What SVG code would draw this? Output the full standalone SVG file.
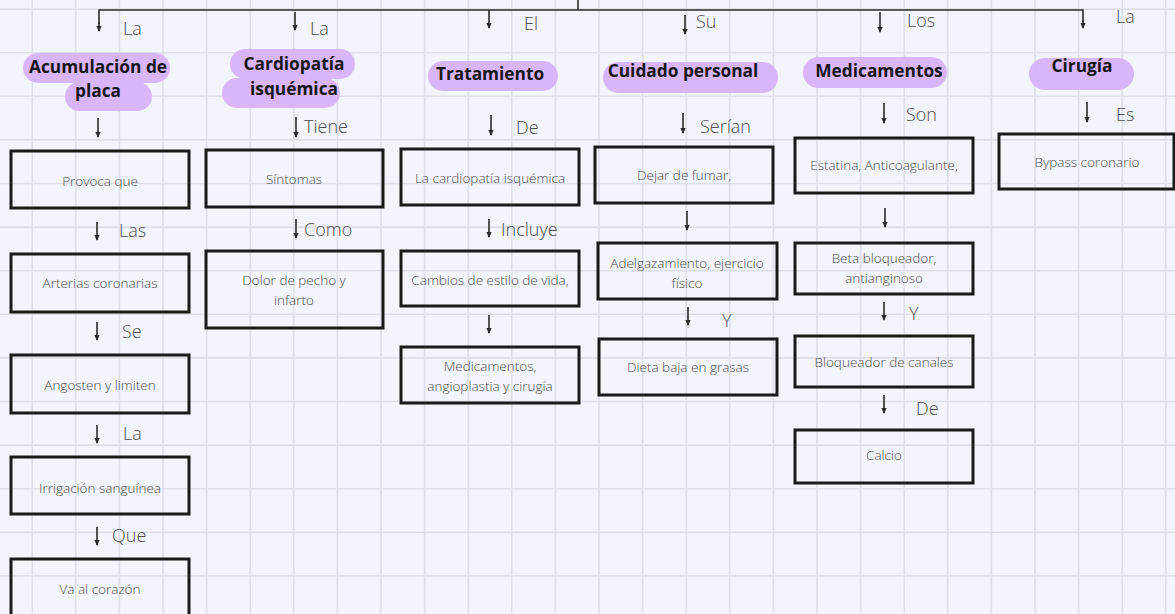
<svg xmlns="http://www.w3.org/2000/svg" width="1175" height="614" viewBox="0 0 1175 614">
<defs>
<marker id="ah" viewBox="0 0 6 6" refX="5" refY="3" markerWidth="6" markerHeight="6" markerUnits="userSpaceOnUse" orient="auto">
<path d="M0 0.4 L6 3 L0 5.6 Z" fill="#2b2b2b"/>
</marker>
<style>
.bg{fill:#f4f4fd}
.grid{stroke:#dfdfea;stroke-width:1.6;fill:none}
.hl{fill:#d9b6f9}
.ht{font-family:"Open Sans","Liberation Sans",sans-serif;font-weight:700;font-size:17.3px;fill:#161616;text-anchor:middle}
.box{fill:none;stroke:#1a1a1a;stroke-width:3}
.bt{font-family:"Open Sans","Liberation Sans",sans-serif;font-weight:300;font-size:13.5px;fill:#4f4f4f;text-anchor:middle}
.lb{font-family:"Open Sans","Liberation Sans",sans-serif;font-weight:300;font-size:18px;fill:#4f4f4f}
.ln{stroke:#2b2b2b;stroke-width:1.6;fill:none}
.ar{stroke:#2b2b2b;stroke-width:1.6;fill:none}
</style>
</defs>
<rect class="bg" x="0" y="0" width="1175" height="614"/>
<path class="grid" d="M32.2 0V614M75.8 0V614M119.4 0V614M163 0V614M206.6 0V614M250.2 0V614M293.8 0V614M337.4 0V614M381 0V614M424.6 0V614M468.2 0V614M511.8 0V614M555.4 0V614M599 0V614M642.6 0V614M686.2 0V614M729.8 0V614M773.4 0V614M817 0V614M860.6 0V614M904.2 0V614M947.8 0V614M991.4 0V614M1035 0V614M1078.6 0V614M1122.2 0V614M1165.8 0V614M0 9.1H1175M0 52.7H1175M0 96.3H1175M0 139.9H1175M0 183.5H1175M0 227.1H1175M0 270.7H1175M0 314.3H1175M0 357.9H1175M0 401.5H1175M0 445.1H1175M0 488.7H1175M0 532.3H1175M0 575.9H1175"/>

<g id="connectors">
<path class="ln" d="M578 0V10"/>
<path class="ln" d="M99 24V10H1083V22"/>
<path class="ar" d="M99 22V31" marker-end="url(#ah)"/>
<path class="ar" d="M1083 20V28" marker-end="url(#ah)"/>
<path class="ar" d="M295 12V30" marker-end="url(#ah)"/>
<path class="ar" d="M489 10V28" marker-end="url(#ah)"/>
<path class="ar" d="M685 15V34" marker-end="url(#ah)"/>
<path class="ar" d="M880 12V32" marker-end="url(#ah)"/>
<text class="lb" x="123" y="35">La</text>
<text class="lb" x="310" y="35">La</text>
<text class="lb" x="524" y="30">El</text>
<text class="lb" x="696" y="28">Su</text>
<text class="lb" x="907" y="27">Los</text>
<text class="lb" x="1116" y="23">La</text>

<path class="ar" d="M98 118V137" marker-end="url(#ah)"/>
<path class="ar" d="M296 117V137" marker-end="url(#ah)"/>
<text class="lb" x="304" y="133">Tiene</text>
<path class="ar" d="M491 115V135" marker-end="url(#ah)"/>
<text class="lb" x="516" y="134">De</text>
<path class="ar" d="M683 113V133" marker-end="url(#ah)"/>
<text class="lb" x="700" y="133">Serían</text>
<path class="ar" d="M884 103V123" marker-end="url(#ah)"/>
<text class="lb" x="906" y="121">Son</text>
<path class="ar" d="M1087 102V122" marker-end="url(#ah)"/>
<text class="lb" x="1116" y="121">Es</text>

<path class="ar" d="M97 222V240" marker-end="url(#ah)"/>
<text class="lb" x="119" y="237">Las</text>
<path class="ar" d="M97 322V340" marker-end="url(#ah)"/>
<text class="lb" x="122" y="338">Se</text>
<path class="ar" d="M97 425V443" marker-end="url(#ah)"/>
<text class="lb" x="123" y="440">La</text>
<path class="ar" d="M97 527V545" marker-end="url(#ah)"/>
<text class="lb" x="112" y="542">Que</text>

<path class="ar" d="M296 219V238" marker-end="url(#ah)"/>
<text class="lb" x="304" y="236">Como</text>

<path class="ar" d="M489 219V237" marker-end="url(#ah)"/>
<text class="lb" x="501" y="236">Incluye</text>
<path class="ar" d="M489 315V333" marker-end="url(#ah)"/>

<path class="ar" d="M687 211V230" marker-end="url(#ah)"/>
<path class="ar" d="M688 307V325" marker-end="url(#ah)"/>
<text class="lb" x="722" y="327">Y</text>

<path class="ar" d="M885 208V227" marker-end="url(#ah)"/>
<path class="ar" d="M884 302V320" marker-end="url(#ah)"/>
<text class="lb" x="909" y="320">Y</text>
<path class="ar" d="M884 395V413" marker-end="url(#ah)"/>
<text class="lb" x="916" y="415">De</text>
</g>

<g id="h-acumulacion">
<rect class="hl" x="23" y="53" width="147" height="30" rx="15"/>
<rect class="hl" x="65" y="82" width="87" height="29" rx="14.5"/>
<text class="ht" x="98" y="73">Acumulación de</text>
<text class="ht" x="98" y="97">placa</text>
</g>
<g id="h-cardiopatia">
<rect class="hl" x="230" y="49" width="125" height="30" rx="15"/>
<rect class="hl" x="222" y="78" width="118" height="30" rx="15"/>
<text class="ht" x="294" y="70">Cardiopatía</text>
<text class="ht" x="294" y="95">isquémica</text>
</g>
<g id="h-tratamiento">
<rect class="hl" x="428" y="61" width="130" height="30" rx="15"/>
<text class="ht" x="490" y="80">Tratamiento</text>
</g>
<g id="h-cuidado">
<rect class="hl" x="603" y="62" width="175" height="31" rx="15.5"/>
<text class="ht" x="683" y="77">Cuidado personal</text>
</g>
<g id="h-medicamentos">
<rect class="hl" x="803" y="57" width="144" height="31" rx="15.5"/>
<text class="ht" x="879" y="77">Medicamentos</text>
</g>
<g id="h-cirugia">
<rect class="hl" x="1029" y="58" width="105" height="32" rx="16"/>
<text class="ht" x="1082" y="72">Cirugía</text>
</g>

<g id="n-provoca"><rect class="box" x="11" y="151" width="178" height="57"/><text class="bt" x="100" y="186">Provoca que</text></g>
<g id="n-arterias"><rect class="box" x="11" y="254" width="178" height="58"/><text class="bt" x="100" y="288">Arterias coronarias</text></g>
<g id="n-angosten"><rect class="box" x="11" y="355" width="178" height="58"/><text class="bt" x="100" y="390">Angosten y limiten</text></g>
<g id="n-irrigacion"><rect class="box" x="11" y="457" width="178" height="57"/><text class="bt" x="100" y="493">Irrigación sanguínea</text></g>
<g id="n-corazon"><rect class="box" x="11" y="559" width="178" height="60"/><text class="bt" x="100" y="594">Va al corazón</text></g>

<g id="n-sintomas"><rect class="box" x="206" y="150" width="177" height="57"/><text class="bt" x="294" y="184">Síntomas</text></g>
<g id="n-dolor"><rect class="box" x="206" y="251" width="177" height="77"/><text class="bt" x="294" y="285">Dolor de pecho y</text><text class="bt" x="294" y="305">infarto</text></g>

<g id="n-lacardio"><rect class="box" x="401" y="149" width="178" height="56"/><text class="bt" x="490" y="183">La cardiopatía isquémica</text></g>
<g id="n-cambios"><rect class="box" x="401" y="251" width="178" height="55"/><text class="bt" x="490" y="285">Cambios de estilo de vida,</text></g>
<g id="n-medang"><rect class="box" x="401" y="347" width="178" height="56"/><text class="bt" x="490" y="371">Medicamentos,</text><text class="bt" x="490" y="391">angioplastia y cirugía</text></g>

<g id="n-fumar"><rect class="box" x="595" y="147" width="178" height="56"/><text class="bt" x="684" y="180">Dejar de fumar,</text></g>
<g id="n-adelga"><rect class="box" x="598" y="243" width="179" height="56"/><text class="bt" x="687" y="268">Adelgazamiento, ejercicio</text><text class="bt" x="687" y="288">físico</text></g>
<g id="n-dieta"><rect class="box" x="599" y="339" width="178" height="56"/><text class="bt" x="688" y="372">Dieta baja en grasas</text></g>

<g id="n-estatina"><rect class="box" x="795" y="138" width="178" height="55"/><text class="bt" x="884" y="170">Estatina, Anticoagulante,</text></g>
<g id="n-beta"><rect class="box" x="795" y="243" width="178" height="51"/><text class="bt" x="884" y="263">Beta bloqueador,</text><text class="bt" x="884" y="283">antianginoso</text></g>
<g id="n-bloq"><rect class="box" x="795" y="336" width="178" height="51"/><text class="bt" x="884" y="367">Bloqueador de canales</text></g>
<g id="n-calcio"><rect class="box" x="795" y="430" width="178" height="53"/><text class="bt" x="884" y="460">Calcio</text></g>

<g id="n-bypass"><rect class="box" x="999" y="134" width="175" height="55"/><text class="bt" x="1087" y="167">Bypass coronario</text></g>
</svg>
